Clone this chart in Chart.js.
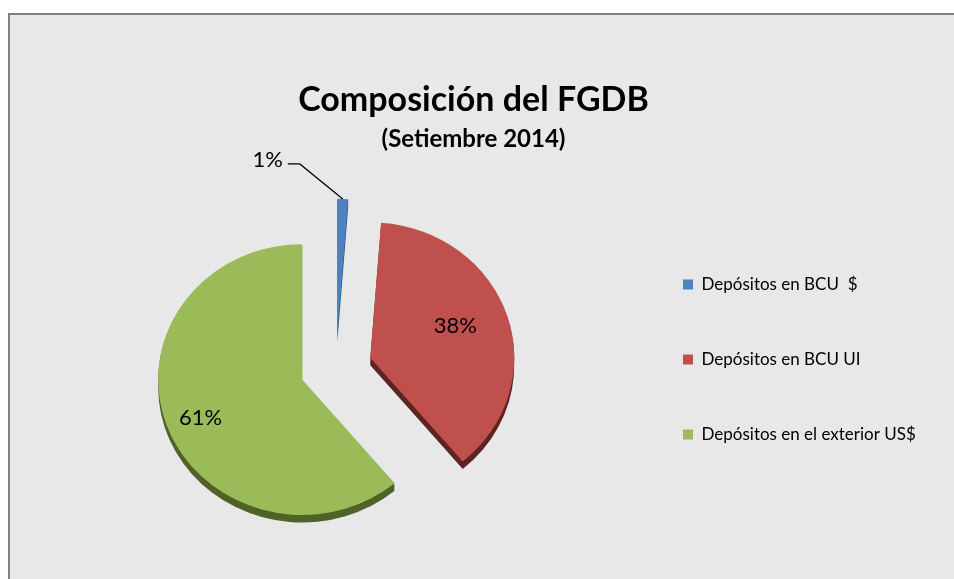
<!DOCTYPE html>
<html>
<head>
<meta charset="utf-8">
<script src="https://cdn.jsdelivr.net/npm/chart.js@4.4.1/dist/chart.umd.min.js"></script>
<style>
  html, body { margin: 0; padding: 0; overflow: hidden; background: #fff; }
  #wrap { position: absolute; left: 0; top: 0; width: 954px; height: 600px; }
</style>
</head>
<body>
<div id="wrap"><canvas id="chartFGDB" width="954" height="600"></canvas></div>
<script>
const labels = ["Depósitos en BCU  $", "Depósitos en BCU UI", "Depósitos en el exterior US$"];
const values = [1.2, 37.7, 61.1];
const colors = ["#4f81bd", "#c0504d", "#9bbb59"];
const sideColors = ["#2c4d75", "#5e2422", "#4f6228"];

const EXPLODE = 36;
const SQUASH = 0.94;
const DEPTH = 8;
const labelFrac = [null, 0.62, 0.75];
const labelDy = [0, -6, 4];

// largeur de la légende, pour la caler à droite
const m = document.createElement("canvas").getContext("2d");
m.font = "17px Lato";
let maxText = 0;
labels.forEach((l) => (maxText = Math.max(maxText, m.measureText(l).width)));
const legendPadding = 58;
const legendWidth = legendPadding + 10 + 10 + 17 / 2 + maxText;
const padRight = Math.max(954 - 625 - legendWidth, 0);
// boîte vide à gauche pour que le titre reste centré sur la zone
const spacerWidth = Math.max(legendWidth - 275, 0);
const padLeft = 47 - spacerWidth;

let center = { x: 0, y: 0 };

const spacerPlugin = {
  id: "spacer",
  beforeInit(chart) {
    Chart.layouts.addBox(chart, {
      position: "left",
      fullSize: false,
      weight: 0,
      // pas compté dans le partage de largeur des boîtes verticales
      options: { display: false },
      width: 0,
      height: 0,
      update(maxWidth, maxHeight) {
        this.width = spacerWidth;
        this.height = maxHeight;
      },
      getPadding() {
        return { top: 0, left: 0, bottom: 0, right: 0 };
      },
      isHorizontal() {
        return false;
      },
      draw() {},
    });
  },
};

const fondPlugin = {
  id: "fond",
  beforeDraw(chart) {
    const ctx = chart.ctx;
    ctx.save();
    ctx.fillStyle = "#ffffff";
    ctx.fillRect(0, 0, chart.width, chart.height);
    ctx.fillStyle = "#e8e8e8";
    ctx.fillRect(8, 13, chart.width, chart.height);
    ctx.fillStyle = "#808080";
    ctx.fillRect(8, 13, 2, chart.height);
    ctx.fillRect(8, 13, chart.width, 2);
    ctx.restore();
  },
};

const explodePlugin = {
  id: "explode",
  afterDatasetsUpdate(chart) {
    const meta = chart.getDatasetMeta(0);
    center = { x: meta.data[0].x, y: meta.data[0].y };
    meta.data.forEach((arc) => {
      const mid = (arc.startAngle + arc.endAngle) / 2;
      arc.x += Math.cos(mid) * EXPLODE;
      arc.y += Math.sin(mid) * EXPLODE;
    });
  },
  beforeDatasetsDraw(chart) {
    const ctx = chart.ctx;
    ctx.save();
    ctx.translate(center.x, center.y);
    ctx.scale(1, SQUASH);
    ctx.translate(-center.x, -center.y);
    // côté 3D
    const meta = chart.getDatasetMeta(0);
    meta.data.forEach((arc, i) => {
      ctx.fillStyle = sideColors[i];
      ctx.beginPath();
      for (let k = 1; k <= DEPTH; k++) {
        ctx.moveTo(arc.x, arc.y + k);
        ctx.arc(arc.x, arc.y + k, arc.outerRadius, arc.startAngle, arc.endAngle);
        ctx.closePath();
      }
      ctx.fill();
    });
  },
  afterDatasetsDraw(chart) {
    const ctx = chart.ctx;
    ctx.restore();
    const meta = chart.getDatasetMeta(0);
    const total = values.reduce((a, b) => a + b, 0);
    const sy = (y) => center.y + (y - center.y) * SQUASH;
    ctx.save();
    ctx.fillStyle = "#000";
    ctx.strokeStyle = "#000";
    ctx.font = "22px Lato";
    meta.data.forEach((arc, i) => {
      const mid = (arc.startAngle + arc.endAngle) / 2;
      const txt = Math.round((values[i] / total) * 100) + "%";
      if (labelFrac[i]) {
        const r = arc.outerRadius * labelFrac[i];
        ctx.textAlign = "center";
        ctx.textBaseline = "middle";
        ctx.fillText(txt, arc.x + Math.cos(mid) * r, sy(arc.y + Math.sin(mid) * r) + labelDy[i]);
      } else {
        // étiquette extérieure avec ligne de rappel
        const ox = arc.x + Math.cos(mid) * arc.outerRadius;
        const oy = sy(arc.y + Math.sin(mid) * arc.outerRadius);
        const bx = ox - 43, by = oy - 35;
        ctx.lineWidth = 1.2;
        ctx.beginPath();
        ctx.moveTo(ox, oy);
        ctx.lineTo(bx, by);
        ctx.lineTo(bx - 12, by);
        ctx.stroke();
        ctx.textAlign = "right";
        ctx.textBaseline = "middle";
        ctx.fillText(txt, bx - 17, by - 4);
      }
    });
    ctx.restore();
  },
};

const chartFGDB = document.getElementById("chartFGDB");
new Chart(chartFGDB, {
  type: "pie",
  data: {
    labels: labels,
    datasets: [
      {
        data: values,
        backgroundColor: colors,
        borderWidth: 0,
      },
    ],
  },
  options: {
    responsive: false,
    animation: false,
    events: [],
    radius: 144,
    layout: {
      padding: { left: padLeft, right: padRight, top: 0, bottom: 9 },
    },
    plugins: {
      title: {
        display: true,
        text: "Composición del FGDB",
        color: "#000",
        font: { family: "Lato", size: 34, weight: "bold", lineHeight: 0.5 },
        padding: { top: 92, bottom: 0 },
      },
      subtitle: {
        display: true,
        text: "(Setiembre 2014)",
        color: "#000",
        font: { family: "Lato", size: 24, weight: "bold", lineHeight: 0.5 },
        padding: { top: 24, bottom: 0 },
      },
      legend: {
        display: true,
        position: "right",
        title: {
          display: true,
          text: " ",
          font: { size: 10, lineHeight: 1 },
          padding: { top: 118, bottom: 0 },
        },
        labels: {
          boxWidth: 10,
          boxHeight: 10,
          padding: legendPadding,
          color: "#000",
          font: { family: "Lato", size: 17 },
        },
      },
      tooltip: { enabled: false },
    },
  },
  plugins: [spacerPlugin, fondPlugin, explodePlugin],
});
</script>
</body>
</html>
